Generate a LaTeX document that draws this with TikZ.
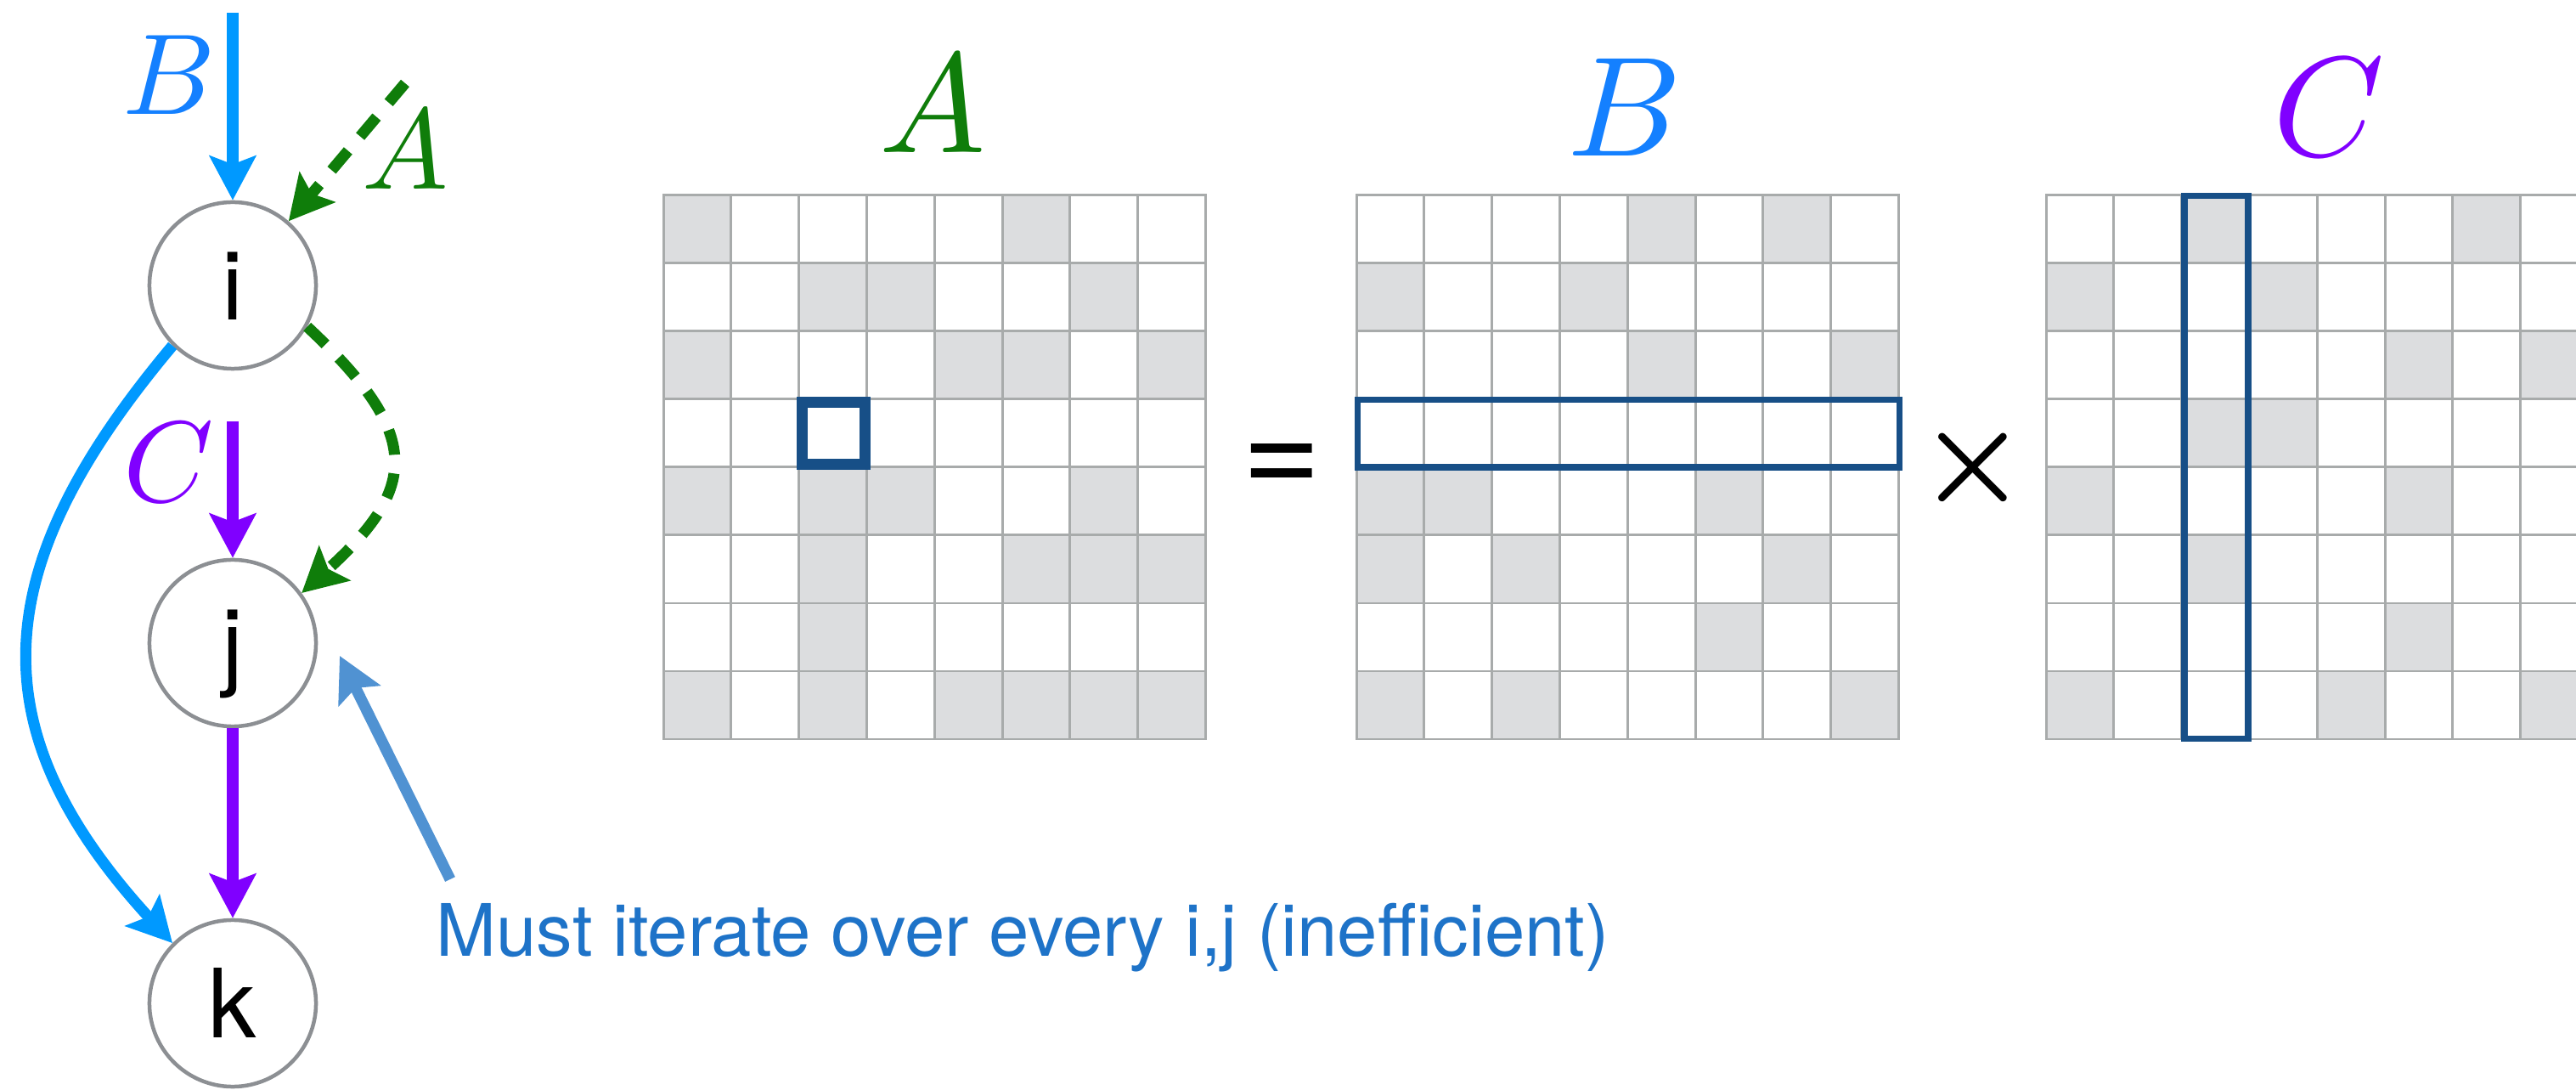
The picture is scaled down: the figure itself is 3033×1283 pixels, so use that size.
\documentclass[tikz,border=0pt]{standalone}
\usepackage{fontspec}
\setmainfont{TeX Gyre Heros}
\usetikzlibrary{arrows.meta}
\definecolor{cB}{RGB}{0,153,255}
\definecolor{cBlab}{RGB}{20,128,255}
\definecolor{cG}{RGB}{15,125,10}
\definecolor{cP}{RGB}{128,0,255}
\definecolor{cSteel}{RGB}{80,146,210}
\definecolor{cMsg}{RGB}{30,115,200}
\definecolor{cCirc}{RGB}{140,143,147}
\definecolor{cBox}{RGB}{23,79,135}
\definecolor{cGrid}{RGB}{168,171,171}
\definecolor{cFill}{RGB}{220,221,223}
\newcommand\mygrid[3]{%
  \foreach \r/\c in {#3} \fill[cFill] ({#1+(\c-1)*79.8},{-#2-(\r-1)*80}) rectangle ++(79.8,-80);
  \foreach \k in {0,...,8} {\draw[gridline] ({#1+\k*79.8},{-#2}) -- ++(0,-640);
    \draw[gridline] ({#1},{-#2-\k*80}) -- ++(638.4,0);}
}
\newcommand\toplabmath[1]{\scalebox{4.75}{\fontsize{10}{12}\selectfont$#1$}}
\newcommand\sidelabmath[1]{\scalebox{3.85}{\fontsize{10}{12}\selectfont$#1$}}
\tikzset{
  vnode/.style={circle, draw=cCirc, line width=1.28pt, fill=white, minimum size=1.96cm,
    inner sep=0pt, font=\fontsize{32}{32}\selectfont, text height=23pt, text depth=0pt},
  flow/.style={line width=3.7pt, -{Stealth[length=14.8pt,width=15.4pt,inset=2.8pt]}},
  dashflow/.style={flow, dash pattern=on 8.5pt off 6.3pt},
  mlabel/.style={inner sep=0pt},
  gridline/.style={draw=cGrid, line width=0.85pt, line cap=rect},
  opsym/.style={inner sep=0pt, font=\fontsize{45.5}{46}\selectfont},
  msg/.style={inner sep=0pt, text=cMsg, font=\fontsize{24.2}{26}\selectfont},
}
\begin{document}
\begin{tikzpicture}[x=0.01cm,y=0.01cm]
\useasboundingbox (0,0) rectangle (3033,-1283);
\clip (0,0) rectangle (3033,-1283);
% matrices
\mygrid{781}{230}{1/1,1/6,2/3,2/4,2/7,3/1,3/5,3/6,3/8,5/1,5/3,5/4,5/7,6/3,6/6,6/7,6/8,7/3,8/1,8/3,8/5,8/6,8/7,8/8}
\mygrid{1597}{230}{1/5,1/7,2/1,2/4,3/5,3/8,5/1,5/2,5/6,6/1,6/3,6/7,7/6,8/1,8/3,8/8}
\mygrid{2409}{230}{1/3,1/7,2/1,2/4,3/6,3/8,4/3,4/4,5/1,5/6,6/3,7/6,8/1,8/5,8/8}
% highlight boxes
\draw[cBox, line width=3.7pt] (944.5,-473.5) rectangle (1018,-547);
\draw[cBox, line width=2pt] (1598,-470.5) rectangle (2236,-550);
\draw[cBox, line width=2.1pt] (2572,-230.4) rectangle (2647,-869.6);
% matrix labels and operators
\node[mlabel, text=cG] (labAtop) at (1098,-122) {\toplabmath{A}};
\node[mlabel, text=cBlab] (labBtop) at (1913,-126) {\toplabmath{B}};
\node[mlabel, text=cP] (labCtop) at (2742,-126) {\toplabmath{C}};
\node[opsym] (eq) at (1509,-553) {=};
\node[mlabel] (times) at (2323,-550) {\scalebox{4.1}{\fontsize{10}{12}\selectfont\boldmath$\times$}};
% graph nodes
\node[vnode] (i) at (274,-336) {i};
\node[vnode] (j) at (274,-757) {j};
\node[vnode] (k) at (274,-1181) {k};
\coordinate (bstart) at (274,-15);
\coordinate (astart) at (477,-98);
\coordinate (cstart) at (274,-496);
\coordinate (mstart) at (530,-1035);
\coordinate (mtip) at (400,-772);
\draw[flow, cB] (bstart) -- (i.north);
\draw[dashflow, cG] (astart) -- (i.49);
\draw[flow, cP] (cstart) -- (j.north);
\draw[flow, cP] (j.south) -- (k.north);
\draw[dashflow, cG] (i.-29) .. controls +(136,-127) and +(138,124.5) .. (j.36);
\draw[flow, cB] (i.225) .. controls +(-220,-262) and +(-231,252) .. (k.135);
\draw[flow, cSteel] (mstart) -- (mtip);
% edge labels
\node[mlabel, text=cBlab] (labB) at (199.5,-88) {\sidelabmath{B}};
\node[mlabel, text=cG] (labA) at (477.5,-176.5) {\sidelabmath{A}};
\node[mlabel, text=cP] (labC) at (199,-544) {\sidelabmath{C}};
\node[msg, anchor=base west] (msg) at (513,-1125) {Must iterate over every i,j (inefficient)};
\end{tikzpicture}
\end{document}
